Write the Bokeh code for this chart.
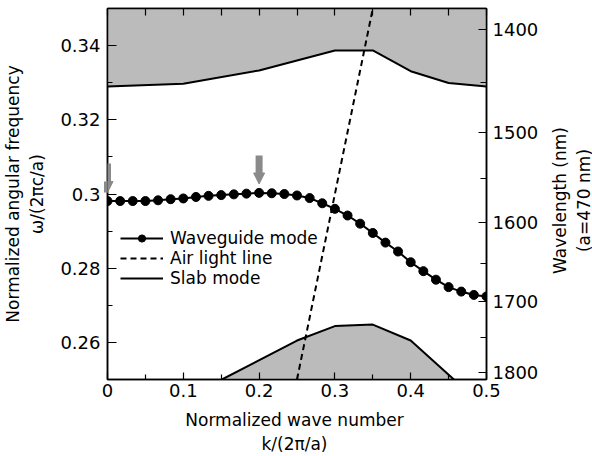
import math
from bokeh.plotting import figure
from bokeh.models import (Range1d, LinearAxis, FixedTicker, Legend, LegendItem, Label,
                          Arrow, NormalHead, ColumnDataSource, CustomLabelingPolicy)
from bokeh.embed import file_html
from bokeh.resources import INLINE

# ---- data ----
k_wg = [0.0, 0.0167, 0.0333, 0.05, 0.0667, 0.0833, 0.1, 0.1167, 0.1333, 0.15,
        0.1667, 0.1833, 0.2, 0.2167, 0.2333, 0.25, 0.2667, 0.2833, 0.3, 0.3167,
        0.3333, 0.35, 0.3667, 0.3833, 0.4, 0.4167, 0.4333, 0.45, 0.4667, 0.4833, 0.5]
w_wg = [0.2981, 0.2981, 0.2981, 0.2981, 0.2983, 0.2986, 0.2988, 0.2992, 0.2995, 0.2997,
        0.2999, 0.3001, 0.3003, 0.3002, 0.3000, 0.2996, 0.2989, 0.2975, 0.2960, 0.2942,
        0.2920, 0.2895, 0.2869, 0.2845, 0.2816, 0.2792, 0.2769, 0.2749, 0.2737, 0.2728, 0.2724]

light_k = [0.25, 0.35]
light_w = [0.25, 0.35]

slab_up_k = [0.0, 0.1, 0.2, 0.25, 0.3, 0.35, 0.4, 0.45, 0.5]
slab_up_w = [0.3290, 0.3297, 0.3333, 0.3360, 0.3387, 0.3387, 0.3331, 0.3299, 0.3290]

slab_lo_k = [0.151, 0.25, 0.3, 0.35, 0.4, 0.457]
slab_lo_w = [0.2500, 0.2605, 0.2644, 0.2648, 0.2605, 0.2500]

arrow_k = [0.0, 0.2]
arrow_top = [0.3082, 0.3104]
arrow_tip = [0.3004, 0.3027]

k_ticks = [0.0, 0.1, 0.2, 0.3, 0.4, 0.5]
k_labels = ["0", "0.1", "0.2", "0.3", "0.4", "0.5"]
k_minor = [0.05, 0.15, 0.25, 0.35, 0.45]

w_ticks = [0.26, 0.28, 0.3, 0.32, 0.34]
w_labels = ["0.26", "0.28", "0.3", "0.32", "0.34"]
w_minor = [0.27, 0.29, 0.31, 0.33]

wl_pos = [0.3443, 0.3166, 0.2922, 0.2710, 0.2519]
wl_labels = ["1400", "1500", "1600", "1700", "1800"]
wl_minor_pos = [0.3300, 0.3041, 0.2813, 0.2612]

x_title = "Normalized wave number\nk/(2π/a)"
y_title = "Normalized angular frequency\nω/(2πc/a)"
y2_title = "Wavelength (nm)\n(a=470 nm)"

FONT = "DejaVu Sans"
GRAY = "#bbbbbb"
ARROW_GRAY = "#8a8a8a"

p = figure(width=592, height=456, output_backend="svg", toolbar_location=None,
           x_range=Range1d(0, 0.5), y_range=Range1d(0.25, 0.35),
           min_border_left=107, min_border_right=106, min_border_top=8, min_border_bottom=77)
p.xgrid.visible = False
p.ygrid.visible = False
p.outline_line_color = "black"
p.outline_line_width = 1.5
p.background_fill_color = "white"
p.border_fill_color = "white"

# gray regions
p.varea(x=slab_up_k, y1=slab_up_w, y2=0.35, fill_color=GRAY)
p.varea(x=slab_lo_k, y1=0.25, y2=slab_lo_w, fill_color=GRAY)

r_slab = p.line(slab_up_k, slab_up_w, line_color="black", line_width=2)
p.line(slab_lo_k, slab_lo_w, line_color="black", line_width=2)

r_light = p.line(light_k, light_w, line_color="black", line_width=2, line_dash="6 4")

r_wg_line = p.line(k_wg, w_wg, line_color="black", line_width=2)
r_wg_pts = p.scatter(k_wg, w_wg, size=9, color="black")

# arrows
arrow_src = ColumnDataSource(dict(x=arrow_k, y0=arrow_top, y1=arrow_tip))
p.add_layout(Arrow(x_start="x", y_start="y0", x_end="x", y_end="y1", source=arrow_src,
                   line_color=ARROW_GRAY, line_width=7, level="overlay",
                   end=NormalHead(size=11, fill_color=ARROW_GRAY, line_color=ARROW_GRAY,
                                  line_width=1)))

def style_axis(ax, tin, tmin):
    ax.axis_line_color = "black"
    ax.axis_line_width = 1.5
    ax.major_tick_line_color = "black"
    ax.minor_tick_line_color = "black"
    ax.major_tick_line_width = 1.2
    ax.minor_tick_line_width = 1.2
    ax.major_tick_in = tin
    ax.major_tick_out = 0
    ax.minor_tick_in = tmin
    ax.minor_tick_out = 0
    ax.major_label_text_font = FONT
    ax.major_label_text_font_size = "18px"
    ax.major_label_text_color = "black"
    ax.axis_label_text_font = FONT
    ax.axis_label_text_font_size = "17px"
    ax.axis_label_text_font_style = "normal"
    ax.axis_label_text_color = "black"

xa = p.xaxis[0]
xa.ticker = FixedTicker(ticks=k_ticks, minor_ticks=k_minor)
xa.major_label_overrides = dict(zip(k_ticks, k_labels))
style_axis(xa, 7, 5)
xa.major_label_standoff = 4

ya = p.yaxis[0]
ya.ticker = FixedTicker(ticks=w_ticks, minor_ticks=w_minor)
ya.major_label_overrides = dict(zip(w_ticks, w_labels))
style_axis(ya, 9, 5)
ya.major_label_standoff = 7
ya.axis_label = y_title
ya.axis_label_standoff = 10

ta = LinearAxis(ticker=FixedTicker(ticks=k_ticks, minor_ticks=k_minor))
style_axis(ta, 7, 7)
ta.major_label_text_font_size = "1px"
ta.major_label_standoff = 0
ta.major_label_policy = CustomLabelingPolicy(
    code="const a = [...indices]; for (const i of a) indices.unset(i); return indices")
p.add_layout(ta, "above")

ra = LinearAxis(ticker=FixedTicker(ticks=wl_pos, minor_ticks=wl_minor_pos))
ra.major_label_overrides = dict(zip(wl_pos, wl_labels))
style_axis(ra, 8, 6)
ra.major_label_standoff = 6
p.add_layout(ra, "right")

# axis titles as labels in the side panels (not clipped to the frame)
def add_title(text, x, y, side, angle=0.0):
    p.add_layout(Label(x=x, y=y, x_units="screen", y_units="screen", text=text,
                       angle=angle, text_align="center", text_baseline="middle",
                       text_font=FONT, text_font_size="17px", text_color="black"), side)

add_title(x_title, 187, 12, "below")
add_title(y2_title, 30, 179, "right", math.pi / 2)

legend = Legend(items=[
    LegendItem(label="Waveguide mode", renderers=[r_wg_line, r_wg_pts]),
    LegendItem(label="Air light line", renderers=[r_light]),
    LegendItem(label="Slab mode", renderers=[r_slab]),
], location=(13, 91))
legend.glyph_width = 43
legend.glyph_height = 18
legend.label_height = 18
legend.label_standoff = 7
legend.spacing = 0
legend.padding = 0
legend.margin = 0
legend.border_line_color = None
legend.background_fill_alpha = 0
legend.label_text_font = FONT
legend.label_text_font_size = "17px"
legend.label_text_color = "black"
p.add_layout(legend)

open("out.html", "w").write(file_html(p, INLINE))
